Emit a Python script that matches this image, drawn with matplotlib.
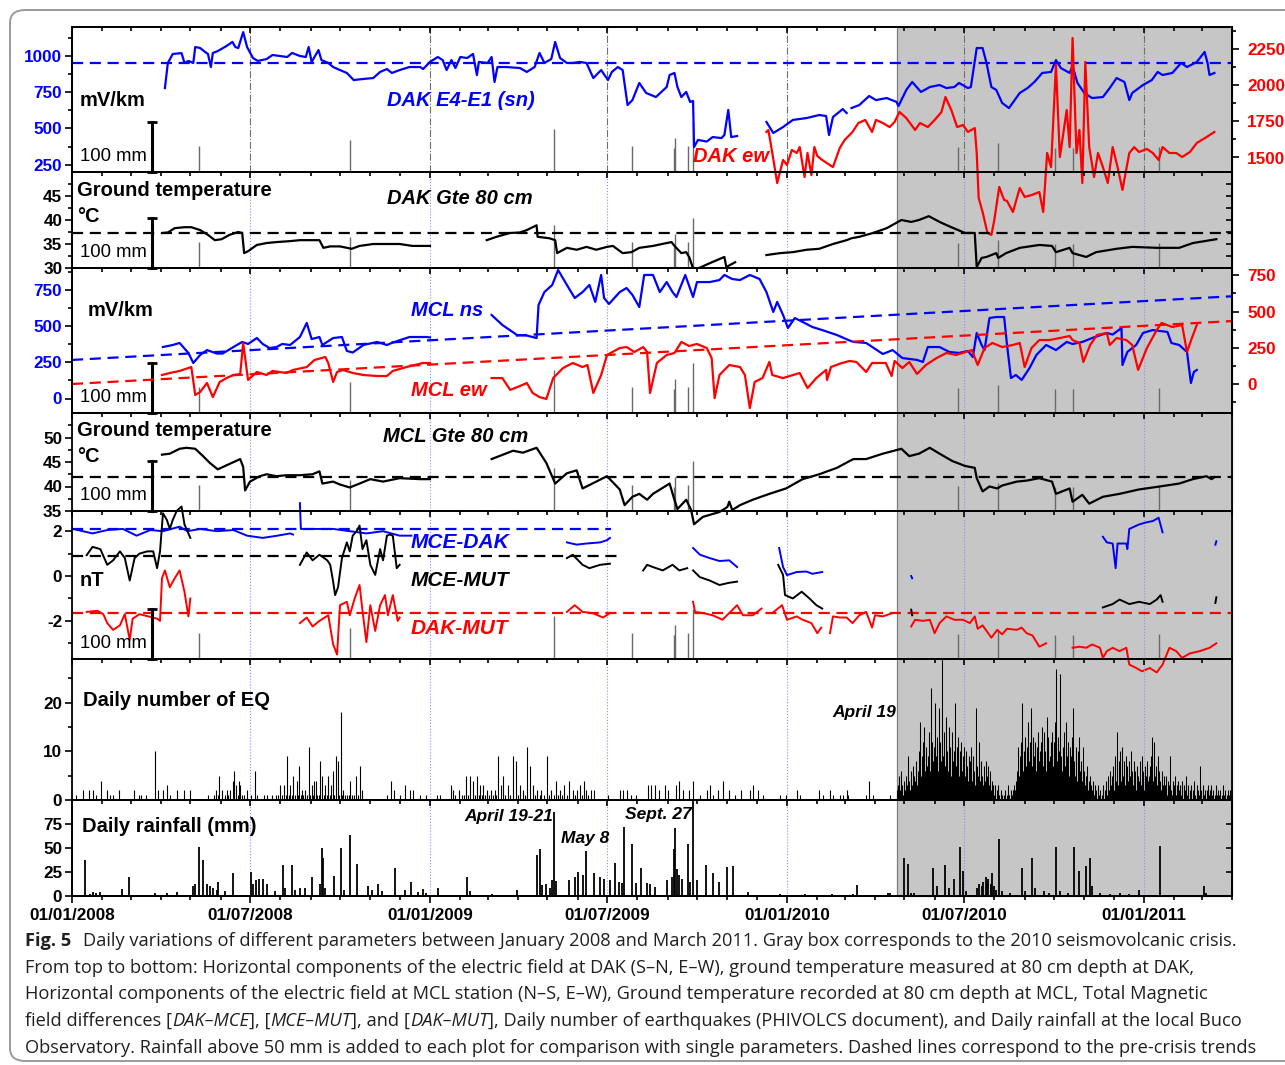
import numpy as np
import matplotlib
matplotlib.use("Agg")
import matplotlib.pyplot as plt
import matplotlib.dates as mdates
from matplotlib.ticker import FixedLocator, NullLocator
from matplotlib.transforms import blended_transform_factory
from matplotlib.patches import Rectangle, FancyBboxPatch

plt.rcParams["font.family"] = ["Liberation Sans", "DejaVu Sans"]
plt.rcParams["font.weight"] = "bold"
plt.rcParams["axes.linewidth"] = 1.3
plt.rcParams["axes.unicode_minus"] = False

# all series are keyed by day number counted from 1 Jan 2008
DAY0 = mdates.date2num(np.datetime64("2008-01-01"))
END_DAY = 1186
CRISIS_START = 843

BLUE, RED = "#0000ff", "#ff0000"

# ---- DAK electric field (mV/km) ----
dak_sn = [(95, 779), (98, 952), (103, 1014), (112, 1020), (115, 952), (119, 966), (124, 952), (126, 1062),
          (131, 1055), (136, 1028), (139, 1014), (142, 924), (144, 1021), (149, 1034), (158, 1069), (164, 1097),
          (167, 1062), (170, 1055), (175, 1165), (179, 1062), (185, 986), (190, 966), (199, 979), (205, 1007),
          (220, 993), (225, 1021), (233, 1000), (239, 993), (242, 1062), (245, 959), (252, 1041), (255, 972),
          (262, 952), (267, 924), (274, 903), (281, 883), (288, 834), (297, 841), (308, 848), (315, 890),
          (322, 910), (327, 883), (335, 903), (345, 924), (356, 924), (359, 910), (366, 959), (374, 993),
          (379, 972), (383, 903), (388, 972), (392, 917), (397, 993), (404, 986), (410, 1014), (414, 869),
          (416, 959), (425, 952), (429, 993), (432, 821), (435, 924), (444, 924), (458, 917), (465, 890),
          (473, 924), (478, 1021), (483, 952), (490, 979), (494, 1097), (499, 986), (506, 952), (512, 952),
          (519, 959), (526, 952), (533, 848), (541, 903), (548, 834), (552, 890), (558, 924), (563, 903),
          (568, 662), (573, 696), (580, 814), (587, 745), (597, 717), (608, 786), (611, 869), (616, 883),
          (619, 786), (623, 717), (628, 752), (632, 683), (635, 690), (636, 372), (640, 421), (649, 410),
          (655, 441), (664, 434), (667, 455), (671, 628), (674, 441), (680, 448), None,
          (710, 545), (717, 469), (727, 510), (737, 559), (751, 572), (764, 593), (771, 586), (774, 455),
          (778, 579), (788, 634), (792, 607), None,
          (797, 641), (805, 662), (815, 724), (822, 696), (833, 710), (843, 683), (845, 655), (853, 766),
          (859, 821), (868, 752), (877, 786), (887, 800), (894, 779), (902, 786), (907, 814), (916, 779),
          (919, 786), (925, 1055), (931, 1055), (935, 952), (940, 786), (945, 766), (951, 676), (958, 641),
          (969, 745), (977, 779), (984, 821), (992, 883), (1001, 890), (1006, 972), (1011, 917), (1020, 883),
          (1023, 931), (1028, 814), (1035, 745), (1043, 710), (1054, 717), (1061, 779), (1068, 848),
          (1076, 821), (1081, 696), (1084, 745), (1095, 800), (1104, 834), (1110, 890), (1115, 869),
          (1125, 883), (1134, 952), (1140, 924), (1150, 959), (1158, 1028), (1161, 952), (1163, 869), (1168, 883)]
dak_ew = [(710, 1676), (712, 1690), (716, 1531), (721, 1324), (727, 1483), (731, 1448), (736, 1552), (741, 1531),
          (744, 1572), (749, 1365), (752, 1531), (756, 1379), (759, 1572), (762, 1510), (767, 1483), (778, 1434),
          (785, 1566), (790, 1621), (798, 1676), (804, 1738), (811, 1759), (818, 1676), (822, 1759), (829, 1738),
          (836, 1710), (841, 1745), (846, 1814), (853, 1772), (862, 1690), (867, 1738), (875, 1710), (882, 1759),
          (889, 1814), (893, 1917), (899, 1828), (905, 1710), (911, 1724), (916, 1676), (923, 1703), (925, 1531),
          (927, 1221), (931, 1124), (936, 979), (940, 966), (943, 1069), (948, 1297), (953, 1207), (956, 1200),
          (962, 1124), (969, 1290), (974, 1228), (981, 1241), (989, 1262), (993, 1124), (997, 1531), (1001, 1434),
          (1006, 2138), (1010, 1503), (1013, 1641), (1017, 1828), (1020, 1572), (1023, 2324), (1027, 1531),
          (1030, 1690), (1033, 1324), (1036, 2159), (1040, 1572), (1045, 1365), (1049, 1531), (1054, 1434),
          (1059, 1324), (1064, 1572), (1069, 1434), (1074, 1276), (1081, 1531), (1086, 1572), (1091, 1538),
          (1099, 1559), (1105, 1531), (1111, 1483), (1115, 1572), (1122, 1531), (1129, 1531), (1135, 1503),
          (1143, 1538), (1150, 1600), (1160, 1641), (1168, 1676)]
dak_sn_trend = 952

# ---- DAK ground temperature at 80 cm (°C) ----
dak_gte = [(93, 37.3), (98, 37.4), (105, 38.3), (115, 38.5), (122, 38.5), (131, 37.9), (139, 36.9), (146, 35.8),
           (153, 36.0), (161, 36.9), (170, 37.5), (174, 37.3), (176, 33.1), (180, 33.5), (189, 34.8), (199, 35.2),
           (209, 35.4), (223, 35.6), (233, 35.8), (253, 35.8), (257, 34.2), (264, 34.5), (274, 34.5), (286, 34.0),
           (294, 34.6), (308, 35.0), (322, 35.0), (335, 35.0), (348, 34.6), (366, 34.6), None,
           (424, 35.8), (434, 36.5), (448, 37.3), (458, 37.4), (465, 37.9), (475, 38.9), (476, 36.5), (488, 36.2),
           (494, 35.8), (496, 33.1), (506, 34.2), (516, 33.8), (526, 34.4), (536, 33.8), (547, 34.4), (553, 34.6),
           (563, 33.1), (572, 33.3), (580, 34.2), (594, 34.6), (608, 35.2), (613, 35.4), (616, 34.6), (623, 33.1),
           (628, 33.3), (631, 32.3), (635, 29.9), (640, 29.9), (652, 31.0), (667, 32.3), (669, 30.2), (678, 31.2),
           None,
           (710, 32.7), (724, 33.1), (737, 33.3), (751, 33.8), (764, 34.0), (778, 35.0), (792, 35.8), (797, 36.2),
           (805, 36.5), (819, 37.3), (833, 38.3), (848, 40.0), (858, 39.6), (866, 40.0), (876, 40.8), (887, 39.6),
           (899, 38.5), (913, 37.3), (923, 37.3), (925, 30.2), (930, 32.1), (935, 32.3), (945, 33.1), (947, 32.1),
           (955, 33.1), (969, 34.2), (989, 34.8), (1002, 34.6), (1006, 33.3), (1020, 34.2), (1023, 33.1),
           (1037, 32.3), (1047, 33.3), (1068, 34.0), (1084, 34.4), (1109, 34.2), (1132, 34.2), (1146, 35.2),
           (1170, 36.0)]
dak_gte_trend = 37.3

# ---- MCL electric field (mV/km) ----
mcl_ns = [(93, 355), (103, 369), (110, 383), (119, 314), (124, 245), (131, 300), (138, 334), (148, 310), (154, 310),
          (165, 355), (174, 390), (180, 376), (189, 417), (195, 376), (202, 348), (209, 355), (215, 376), (223, 369),
          (233, 424), (240, 521), (245, 410), (253, 424), (256, 369), (267, 417), (276, 424), (281, 328), (287, 317),
          (298, 369), (312, 390), (322, 369), (328, 386), (345, 424), (363, 424), (366, 421), None,
          (429, 576), (440, 507), (455, 438), (465, 434), (475, 417), (477, 645), (483, 734), (491, 783), (497, 886),
          (506, 783), (514, 693), (522, 734), (529, 783), (535, 666), (541, 852), (544, 693), (549, 652), (560, 734),
          (567, 762), (573, 714), (580, 631), (585, 852), (594, 852), (601, 734), (608, 803), (614, 734), (618, 700),
          (627, 852), (635, 700), (639, 803), (652, 803), (662, 817), (667, 852), (675, 824), (683, 817), (693, 852),
          (703, 824), (710, 734), (717, 597), (721, 666), (727, 576), (732, 486), (739, 555), (747, 528), (757, 493),
          (767, 472), (782, 438), (795, 400), (799, 390), (812, 383), (829, 307), (839, 334), (849, 279), (864, 266),
          (870, 252), (875, 355), (887, 355), (897, 321), (907, 314), (916, 328), (921, 286), (925, 452), (930, 369),
          (933, 334), (938, 555), (945, 562), (953, 562), (956, 369), (960, 141), (965, 162), (971, 128), (979, 210),
          (986, 300), (996, 369), (1006, 334), (1017, 390), (1023, 376), (1033, 390), (1043, 417), (1058, 452),
          (1064, 441), (1073, 486), (1074, 231), (1079, 321), (1088, 369), (1095, 452), (1105, 472), (1120, 459),
          (1124, 383), (1132, 369), (1140, 321), (1144, 107), (1147, 183), (1150, 197)]
mcl_ew = [(92, 62), (100, 76), (110, 90), (122, 117), (126, -76), (131, -55), (138, 7), (144, -90), (151, 14),
          (158, 41), (165, 62), (172, 69), (175, 283), (180, 28), (189, 83), (199, 62), (205, 90), (212, 83),
          (219, 76), (226, 97), (240, 117), (248, 166), (259, 186), (262, 145), (267, 14), (271, 83), (277, 97),
          (287, 76), (298, 62), (312, 55), (322, 55), (328, 90), (342, 117), (359, 145), (366, 145), None,
          (429, 41), (440, 41), (448, -41), (458, -14), (465, 7), (471, -62), (478, -90), (485, -103), (492, 41),
          (502, 110), (512, 145), (522, 117), (527, 131), (533, -62), (541, 62), (547, 200), (560, 248), (567, 255),
          (575, 221), (584, 255), (588, 221), (591, -62), (598, 145), (608, 200), (616, 214), (623, 290), (631, 262),
          (639, 276), (649, 248), (654, 179), (657, -97), (662, 62), (672, 131), (683, 117), (688, 62), (693, -166),
          (698, 14), (706, 41), (713, 152), (716, 62), (727, 41), (737, 62), (744, 76), (752, -28), (761, 41),
          (771, 97), (772, 28), (776, 117), (785, 140), (795, 159), (802, 152), (812, 83), (818, 145), (832, 145),
          (838, 55), (841, 159), (849, 110), (856, 152), (864, 69), (873, 131), (884, 179), (894, 214), (904, 200),
          (914, 221), (920, 234), (926, 131), (933, 248), (941, 283), (951, 255), (962, 269), (969, 283), (974, 117),
          (981, 248), (989, 303), (999, 303), (1010, 317), (1020, 331), (1023, 303), (1030, 283), (1034, 152),
          (1041, 269), (1048, 338), (1058, 352), (1061, 269), (1068, 317), (1078, 303), (1084, 269), (1090, 97),
          (1099, 248), (1109, 372), (1114, 421), (1125, 393), (1135, 407), (1140, 221), (1145, 317), (1150, 407)]
mcl_ns_trend = [(0, 266), (END_DAY, 705)]
mcl_ew_trend = [(0, 0), (END_DAY, 434)]

# ---- MCL ground temperature at 80 cm (°C) ----
mcl_gte = [(92, 46.5), (100, 46.7), (110, 47.7), (117, 47.9), (126, 47.7), (134, 46.2), (141, 44.8), (149, 43.5),
           (161, 44.6), (172, 45.6), (175, 44.0), (177, 39.2), (182, 41.0), (192, 42.1), (199, 42.5), (209, 42.1),
           (219, 42.3), (233, 42.3), (246, 42.5), (253, 43.1), (256, 40.6), (267, 41.0), (274, 40.4), (284, 39.8),
           (294, 40.6), (305, 41.5), (318, 41.0), (335, 41.7), (356, 41.5), (366, 41.5), None,
           (429, 45.6), (451, 47.3), (461, 46.9), (475, 47.9), (485, 44.8), (494, 40.6), (506, 42.7), (516, 43.3),
           (522, 39.6), (532, 40.6), (547, 42.1), (560, 39.4), (565, 36.2), (573, 37.9), (580, 38.5), (588, 37.3),
           (594, 38.5), (611, 40.6), (615, 37.9), (619, 35.4), (628, 37.3), (633, 35.2), (636, 32.3), (645, 33.8),
           (662, 34.8), (670, 35.8), (672, 36.9), (675, 35.2), (683, 36.2), (696, 37.3), (713, 38.5), (730, 39.6),
           (747, 41.5), (764, 42.5), (782, 43.8), (795, 45.2), (799, 45.6), (812, 45.6), (829, 46.7), (848, 47.7),
           (856, 46.2), (866, 46.7), (877, 47.9), (887, 46.7), (900, 45.2), (913, 44.2), (923, 43.8), (925, 41.7),
           (931, 39.0), (938, 40.0), (946, 39.6), (951, 40.2), (966, 41.0), (976, 41.2), (989, 41.7), (1002, 41.0),
           (1006, 38.5), (1020, 39.6), (1023, 36.9), (1033, 38.3), (1040, 36.5), (1054, 37.9), (1071, 38.5),
           (1091, 39.4), (1112, 40.0), (1132, 40.6), (1146, 41.5), (1160, 42.1), (1165, 41.5), (1168, 41.9)]
mcl_gte_trend = 41.9

# ---- total magnetic field differences (nT) ----
mce_dak = [(1, 2.1), (21, 1.9), (36, 2.05), (52, 2.1), (66, 1.8), (80, 2.05), (93, 2.0), (110, 2.2), (118, 2.0),
           (131, 2.1), (148, 2.0), (165, 2.05), (179, 1.8), (195, 1.7), (210, 1.8), (223, 1.9), (226, 1.85), None,
           (233, 3.25), (234, 2.1), (250, 2.1), (267, 2.1), (284, 2.0), (301, 1.9), (318, 2.0), (335, 1.8),
           (347, 1.8), None,
           (506, 1.5), (516, 1.4), (526, 1.45), (540, 1.5), (547, 1.6), (550, 1.7), None,
           (635, 1.25), (642, 0.95), (652, 0.8), (662, 0.67), (672, 0.7), (680, 0.4), None,
           (723, 1.25), (727, 0.4), (731, 0.04), (741, 0.18), (751, 0.2), (757, 0.1), (767, 0.18), None,
           (858, 0.0), (859, -0.1), None,
           (1054, 1.75), (1058, 1.5), (1064, 1.45), (1067, 0.35), (1069, 1.45), (1078, 1.45), (1079, 1.2),
           (1081, 2.1), (1091, 2.3), (1099, 2.4), (1105, 2.45), (1111, 2.6), (1115, 1.95), None,
           (1169, 1.4), (1170, 1.55)]
mce_mut = [(15, 0.93), (21, 1.3), (29, 1.2), (36, 0.5), (42, 0.7), (49, 1.1), (54, 0.8), (59, -0.2), (64, 0.8),
           (69, 1.0), (77, 1.1), (83, 1.1), (87, 0.35), (90, 1.1), (93, 2.8), (97, 2.5), (100, 2.1), (103, 2.5),
           (107, 2.9), (112, 3.1), (115, 2.3), (121, 1.7), None,
           (233, 0.5), (240, 1.05), (246, 0.7), (253, 0.95), (261, 0.7), (264, 0.5), (267, -0.25), (269, -0.85),
           (272, -0.5), (276, 0.8), (281, 1.5), (284, 1.1), (287, 1.8), (291, 2.0), (294, 2.25), (297, 1.2),
           (301, 1.6), (305, 0.5), (310, 0.05), (315, 1.2), (318, 0.7), (322, 1.8), (325, 1.85), (328, 1.8),
           (332, 0.35), (335, 0.5), None,
           (506, 0.8), (512, 0.95), (522, 0.5), (529, 0.35), (540, 0.5), (550, 0.55), None,
           (584, 0.25), (588, 0.5), (594, 0.4), (604, 0.25), (614, 0.5), (621, 0.25), (629, 0.35), None,
           (635, 0.25), (642, -0.05), (652, -0.2), (662, -0.4), (672, -0.3), (680, -0.25), None,
           (722, 0.5), (727, 0.05), (729, -0.85), (737, -1.0), (746, -0.7), (754, -1.0), (761, -1.3), (767, -1.45),
           None,
           (858, -1.5), (859, -1.75), None,
           (1054, -1.4), (1064, -1.25), (1071, -1.05), (1081, -1.25), (1091, -1.15), (1102, -1.25), (1109, -1.05),
           (1113, -0.85), (1115, -1.15), None,
           (1169, -1.2), (1170, -0.95)]
dak_mut = [(15, -1.6), (26, -1.55), (32, -1.7), (36, -2.1), (42, -2.4), (49, -2.2), (54, -1.7), (59, -2.85),
           (62, -1.9), (69, -1.7), (78, -1.8), (87, -1.9), (90, -2.0), (92, -0.1), (95, 0.25), (100, -0.5),
           (105, -0.1), (110, 0.25), (115, -0.7), (119, -1.8), (121, -1.0), None,
           (233, -2.1), (240, -1.85), (246, -2.25), (253, -2.0), (262, -1.75), (267, -3.05), (271, -3.5),
           (274, -1.3), (281, -1.15), (284, -1.75), (289, -1.0), (294, -0.4), (297, -1.55), (301, -2.95),
           (305, -1.3), (310, -2.45), (315, -1.3), (320, -0.85), (323, -1.75), (328, -0.85), (333, -2.0),
           (335, -1.85), None,
           (506, -1.6), (514, -1.3), (522, -1.6), (532, -1.65), (543, -1.85), (550, -1.65), None,
           (635, -1.15), (637, -1.6), (645, -1.65), (655, -1.75), (665, -1.95), (672, -1.65), (680, -1.3),
           (686, -1.75), (696, -1.75), (705, -1.45), None,
           (716, -1.65), (726, -1.3), (731, -1.95), (741, -1.8), (747, -1.95), (756, -2.1), (762, -2.55),
           (766, -2.3), None,
           (775, -2.55), (778, -1.8), (785, -1.85), (792, -1.85), (798, -2.1), (805, -1.75), (812, -1.6),
           (818, -2.3), (821, -1.75), (829, -1.8), (839, -1.65), None,
           (858, -2.25), (862, -1.95), (870, -2.0), (877, -1.95), (882, -2.55), (887, -2.1), (894, -1.8),
           (902, -1.95), (911, -1.95), (918, -2.1), (923, -1.8), (926, -2.35), (931, -2.2), (940, -2.75),
           (946, -2.4), (951, -2.6), (956, -2.35), (966, -2.4), (971, -2.3), (976, -2.55), (982, -2.65),
           (989, -3.15), (996, -3.0), None,
           (1023, -3.2), (1030, -3.15), (1037, -3.2), (1043, -3.05), (1051, -3.2), (1054, -3.65), (1058, -3.35),
           (1064, -3.2), (1071, -3.35), (1078, -3.2), (1081, -3.95), (1088, -4.1), (1094, -4.25), (1102, -4.1),
           (1109, -4.3), (1115, -3.95), (1122, -3.2), (1129, -3.35), (1135, -3.65), (1143, -3.45), (1153, -3.35),
           (1163, -3.2), (1170, -3.0)]
mce_dak_trend = [(0, 2.1), (551, 2.1)]
mce_mut_trend = [(0, 0.9), (562, 0.9)]
dak_mut_trend = [(0, -1.65), (END_DAY, -1.65)]

# ---- daily number of earthquakes ----
eq_before = [(4, 1), (11, 2), (17, 2), (21, 2), (25, 1), (30, 4), (36, 2), (39, 1), (42, 1), (48, 2), (63, 2),
             (68, 1), (71, 1), (76, 1), (85, 10), (88, 2), (93, 2), (97, 3), (100, 1), (107, 2), (114, 2), (121, 2),
             (139, 1), (145, 1), (147, 2), (149, 1), (150, 5), (153, 2), (156, 1), (158, 2), (160, 1), (162, 2),
             (165, 4), (166, 6), (168, 3), (170, 1), (171, 4), (172, 3), (174, 1), (176, 1), (179, 2), (183, 1),
             (187, 6), (189, 1), (196, 1), (199, 1), (204, 1), (209, 1), (211, 1), (213, 3), (215, 1), (217, 3),
             (219, 1), (220, 9), (222, 1), (223, 3), (225, 1), (226, 5), (228, 1), (230, 4), (231, 1), (232, 7),
             (234, 1), (235, 2), (236, 1), (238, 2), (240, 1), (242, 11), (243, 1), (245, 3), (246, 1), (247, 4),
             (249, 4), (251, 1), (253, 1), (254, 8), (256, 5), (258, 1), (259, 3), (261, 1), (262, 5), (264, 1),
             (265, 3), (267, 6), (268, 1), (270, 9), (272, 8), (273, 1), (275, 18), (276, 1), (277, 2), (279, 1),
             (281, 1), (283, 1), (284, 4), (286, 1), (288, 1), (290, 5), (292, 1), (294, 7), (296, 2), (322, 1),
             (326, 4), (329, 2), (335, 1), (340, 3), (346, 2), (349, 2), (356, 1), (362, 1), (373, 1), (376, 1),
             (388, 3), (390, 2), (392, 1), (396, 2), (399, 1), (401, 1), (403, 5), (405, 1), (407, 5), (410, 4),
             (412, 1), (414, 5), (416, 1), (417, 3), (419, 1), (420, 3), (422, 1), (424, 2), (426, 1), (428, 2),
             (430, 1), (432, 2), (434, 1), (436, 9), (439, 3), (441, 5), (443, 1), (446, 3), (448, 1), (451, 9),
             (454, 8), (456, 1), (458, 3), (461, 2), (463, 1), (465, 11), (468, 7), (471, 3), (473, 1), (475, 2),
             (478, 1), (480, 2), (483, 1), (486, 9), (488, 1), (490, 2), (493, 1), (495, 4), (497, 1), (499, 2),
             (501, 1), (503, 3), (506, 1), (508, 4), (512, 2), (514, 1), (516, 2), (519, 3), (521, 1), (523, 4),
             (526, 2), (528, 1), (531, 2), (534, 2), (548, 1), (560, 2), (563, 2), (567, 2), (572, 1), (577, 1),
             (589, 3), (592, 3), (596, 3), (600, 2), (606, 3), (609, 2), (618, 3), (621, 4), (625, 2), (631, 2),
             (635, 4), (642, 1), (649, 2), (652, 3), (655, 1), (660, 2), (666, 4), (672, 2), (678, 1), (684, 2),
             (693, 2), (696, 3), (701, 2), (706, 1), (724, 1), (730, 1), (741, 2), (744, 1), (764, 2), (768, 1),
             (775, 2), (778, 1), (785, 1), (788, 1), (792, 2), (793, 1), (812, 1), (815, 4), (819, 1), (836, 1)]
# one value per day from CRISIS_START onwards
eq_crisis = [2, 1, 3, 5, 2, 6, 3, 1, 4, 2,    5, 3, 9, 4, 2, 6, 3, 7, 5, 4,
             8, 3, 6, 10, 16, 5, 9, 12, 15, 6,  11, 7, 9, 14, 6, 23, 12, 8, 11, 20,
             9, 13, 6, 19, 12, 8, 16, 30, 9, 14,  7, 17, 10, 6, 15, 11, 5, 14, 8, 10,
             20, 7, 11, 13, 5, 10, 12, 6, 9, 11,  5, 10, 7, 4, 9, 8, 11, 4, 9, 6,
             3, 19, 7, 5, 12, 4, 8, 5, 3, 7,  4, 8, 2, 5, 7, 3, 6, 2, 4, 3,
             1, 3, 0, 2, 3, 1, 0, 2, 1, 0,  1, 2, 0, 1, 3, 1, 0, 2, 1, 2,
             3, 2, 4, 6, 11, 5, 9, 12, 20, 6,  10, 13, 7, 11, 16, 8, 12, 19, 17, 7,
             13, 9, 12, 6, 11, 14, 8, 10, 12, 15,  7, 14, 10, 6, 17, 13, 8, 9, 12, 14,
             7, 12, 16, 27, 8, 13, 10, 26, 9, 6,  11, 14, 7, 16, 9, 12, 5, 11, 9, 13,
             19, 8, 5, 11, 9, 4, 10, 13, 6, 8,  4, 11, 6, 3, 5, 7, 2, 4, 5, 3,
             2, 4, 1, 3, 2, 0, 3, 1, 2, 0,  1, 3, 0, 2, 4, 1, 5, 2, 6, 3,
             5, 7, 2, 9, 4, 14, 3, 8, 6, 10,  4, 11, 5, 8, 3, 9, 7, 4, 8, 5,
             10, 6, 3, 8, 6, 2, 7, 5, 4, 8,  3, 9, 6, 2, 7, 5, 8, 4, 5, 7,
             9, 13, 4, 12, 5, 7, 3, 9, 6, 4,  2, 6, 3, 5, 2, 3, 5, 1, 4, 3,
             9, 2, 1, 4, 3, 5, 1, 3, 4, 2,  3, 1, 4, 0, 3, 2, 5, 1, 3, 0,
             2, 3, 0, 2, 4, 1, 0, 3, 2, 1,  7, 2, 0, 3, 1, 2, 0, 2, 3, 1,
             2, 0, 3, 1, 2, 0, 1, 3, 1, 2,  1, 2, 0, 1, 3, 1, 2, 0, 1, 2,
             1, 2, 1]

# ---- daily rainfall at Buco (mm) ----
rain = [(13, 37), (18, 2), (21, 4), (25, 3), (29, 4), (51, 7), (58, 20), (85, 3), (97, 3), (107, 4), (124, 10),
        (126, 12), (130, 51), (134, 38), (138, 12), (141, 10), (144, 8), (148, 6), (149, 15), (156, 5), (165, 24),
        (183, 25), (185, 12), (188, 17), (191, 18), (195, 18), (199, 12), (208, 5), (216, 32), (218, 8), (225, 32),
        (228, 6), (233, 8), (238, 8), (245, 20), (254, 13), (256, 50), (257, 40), (259, 8), (268, 21), (275, 50),
        (278, 6), (284, 64), (291, 33), (303, 10), (307, 6), (313, 12), (317, 5), (330, 29), (340, 6), (347, 15),
        (354, 4), (359, 7), (362, 3), (374, 8), (404, 20), (407, 5), (429, 2), (443, 1), (455, 6), (475, 43),
        (478, 49), (481, 11), (485, 13), (489, 8), (491, 17), (493, 87), (495, 16), (508, 17), (514, 20), (517, 25),
        (522, 22), (526, 47), (534, 24), (540, 20), (544, 18), (550, 17), (555, 34), (559, 15), (562, 14), (564, 72),
        (573, 54), (577, 14), (582, 29), (588, 14), (591, 12), (596, 9), (608, 17), (613, 20), (615, 49), (617, 71),
        (619, 28), (621, 22), (624, 18), (630, 54), (632, 15), (635, 104), (639, 17), (648, 32), (655, 24),
        (662, 15), (670, 30), (676, 31), (691, 4), (724, 2), (749, 2), (777, 2), (798, 2), (803, 11), (834, 3),
        (836, 3), (851, 40), (855, 33), (858, 3), (861, 3), (880, 29), (884, 10), (893, 32), (897, 8), (902, 18),
        (908, 51), (911, 26), (914, 5), (925, 8), (927, 12), (930, 10), (931, 15), (934, 20), (936, 14), (937, 18),
        (940, 12), (941, 24), (943, 10), (945, 6), (948, 59), (951, 5), (959, 3), (971, 29), (974, 5), (982, 40),
        (985, 8), (994, 5), (999, 3), (1006, 51), (1010, 5), (1018, 3), (1024, 51), (1030, 26), (1037, 31),
        (1041, 40), (1043, 10), (1051, 3), (1061, 2), (1071, 3), (1081, 2), (1091, 6), (1112, 52), (1157, 10),
        (1159, 3)]
# rainfall events above 50 mm, repeated at the foot of every parameter panel
heavy_rain = [(130, 52), (284, 63), (493, 86), (573, 52), (615, 48), (617, 68), (630, 52), (635, 100),
              (906, 50), (947, 57), (1005, 48), (1023, 48), (1111, 50)]


def xy(pairs):
    x = np.array([DAY0 + p[0] if p else np.nan for p in pairs])
    y = np.array([p[1] if p else np.nan for p in pairs])
    return x, y


# ---------------------------------------------------------------- layout
W, H = 1285, 1065
L, R = 72, 1232
fig = plt.figure(figsize=(W / 100, H / 100), dpi=100)

bounds = [(27, 172), (172, 268), (268, 413), (413, 511), (511, 659), (659, 800), (800, 896)]


def tick_style(ax, axis="y", direction="out"):
    ax.tick_params(axis=axis, which="both", direction=direction, width=1.2, labelsize=12.3, pad=2)
    ax.tick_params(axis=axis, which="major", length=5)
    ax.tick_params(axis=axis, which="minor", length=3)


def panel(top, bottom, grid_color="#8c8cff", grid_ls=":"):
    ax = fig.add_axes([L / W, 1 - bottom / H, (R - L) / W, (bottom - top) / H])
    ax.patch.set_visible(False)
    ax.set_xlim(DAY0, DAY0 + END_DAY)
    ax.xaxis.set_major_locator(mdates.MonthLocator(bymonth=[1, 7]))
    ax.xaxis.set_minor_locator(mdates.MonthLocator())
    ax.tick_params(axis="x", which="both", direction="in", top=True, bottom=False,
                   labelbottom=False, width=1.2)
    ax.tick_params(axis="x", which="major", length=4.5)
    ax.tick_params(axis="x", which="minor", length=3)
    tick_style(ax)
    ax.grid(axis="x", which="major", color=grid_color, ls=grid_ls, lw=0.8)
    return ax


def yticks(ax, major, minor=None, lim=None):
    if lim:
        ax.set_ylim(*lim)
    ax.yaxis.set_major_locator(FixedLocator(major))
    ax.yaxis.set_minor_locator(FixedLocator(minor) if minor else NullLocator())


def right_axis(ax, lim, major, minor, color=None, labels=True):
    axr = ax.twinx()
    axr.patch.set_visible(False)
    yticks(axr, major, minor, lim)
    if labels:
        tick_style(axr, direction="out")
        axr.tick_params(axis="y", labelcolor=color, pad=6)
    else:
        tick_style(axr, direction="in")
        axr.tick_params(axis="y", which="both", length=4, labelright=False)
    return axr


def rain_marks(ax, top, bottom):
    h = bottom - top
    tr = blended_transform_factory(ax.transData, ax.transAxes)
    hx, hmm = xy(heavy_rain)
    ax.vlines(hx, 0, hmm * 0.5 / h, transform=tr, color="#6a6a6a", lw=1.0, zorder=1.8)
    xb = DAY0 + 82
    hb = 50 / h
    ax.plot([xb, xb], [0, hb], transform=tr, color="k", lw=2.2, clip_on=False, zorder=3)
    ax.plot([xb, xb], [0, hb], transform=tr, ls="none", marker="_", ms=7, mew=2, color="k",
            clip_on=False, zorder=3)
    fig.text(147 / W, 1 - (bottom - 15.5) / H, "100 mm", ha="right", va="center",
             fontsize=13.3, fontweight="normal")


def line(ax, pairs, color, lw=1.6, clip=True):
    x, y = xy(pairs)
    ax.plot(x, y, color=color, lw=lw, clip_on=clip, zorder=2.5)


def trend(ax, pairs, color):
    x, y = xy(pairs)
    ax.plot(x, y, color=color, lw=1.6, ls=(0, (5, 3)), zorder=2.4)


# DAK electric field
ax1 = panel(*bounds[0], grid_color="#707070", grid_ls="-.")
yticks(ax1, [250, 500, 750, 1000], [375, 625, 875, 1125], (200, 1200))
ax1.tick_params(axis="y", labelcolor=BLUE)
ax1r = right_axis(ax1, (1400, 2400), [1500, 1750, 2000, 2250], [1625, 1875, 2125, 2375], RED)
rain_marks(ax1, *bounds[0])
trend(ax1, [(0, dak_sn_trend), (END_DAY, dak_sn_trend)], BLUE)
line(ax1, dak_sn, BLUE)
line(ax1r, dak_ew, RED, clip=False)

# DAK ground temperature
ax2 = panel(*bounds[1])
yticks(ax2, [30, 35, 40, 45], [32.5, 37.5, 42.5, 47.5], (30, 50))
right_axis(ax2, (30, 50), [35, 40, 45], [32.5, 37.5, 42.5, 47.5], labels=False)
rain_marks(ax2, *bounds[1])
trend(ax2, [(0, dak_gte_trend), (END_DAY, dak_gte_trend)], "k")
line(ax2, dak_gte, "k")

# MCL electric field
ax3 = panel(*bounds[2])
yticks(ax3, [0, 250, 500, 750], [125, 375, 625, 875], (-100, 900))
ax3.tick_params(axis="y", labelcolor=BLUE)
ax3r = right_axis(ax3, (-200, 800), [0, 250, 500, 750], [-125, 125, 375, 625], RED)
rain_marks(ax3, *bounds[2])
trend(ax3, mcl_ns_trend, BLUE)
trend(ax3r, mcl_ew_trend, RED)
line(ax3, mcl_ns, BLUE)
line(ax3r, mcl_ew, RED)

# MCL ground temperature
ax4 = panel(*bounds[3])
yticks(ax4, [35, 40, 45, 50], [37.5, 42.5, 47.5, 52.5], (35, 55))
rain_marks(ax4, *bounds[3])
trend(ax4, [(0, mcl_gte_trend), (END_DAY, mcl_gte_trend)], "k")
line(ax4, mcl_gte, "k", clip=False)

# magnetic field differences
ax5 = panel(*bounds[4])
yticks(ax5, [-2, 0, 2], [-3, -1, 1], (-3.7, 2.9))
rain_marks(ax5, *bounds[4])
trend(ax5, mce_dak_trend, BLUE)
trend(ax5, mce_mut_trend, "k")
trend(ax5, dak_mut_trend, RED)
line(ax5, mce_dak, BLUE, lw=1.4, clip=False)
line(ax5, mce_mut, "k", lw=1.4, clip=False)
line(ax5, dak_mut, RED, lw=1.4, clip=False)

# earthquakes
ax6 = panel(*bounds[5])
yticks(ax6, [0, 10, 20], [5, 15, 25], (0, 29))
ex, ey = xy(eq_before)
ax6.vlines(ex, 0, ey, color="k", lw=0.8)
crisis_x = DAY0 + CRISIS_START + np.arange(len(eq_crisis))
ax6.vlines(crisis_x, 0, eq_crisis, color="k", lw=0.75)

# rainfall
ax7 = panel(*bounds[6])
yticks(ax7, [0, 25, 50, 75], None, (0, 100))
right_axis(ax7, (0, 100), [25, 50, 75], None, labels=False)
rx, ry = xy(rain)
ax7.vlines(rx, 0, ry, color="k", lw=1.3)
sec = ax7.secondary_xaxis("bottom")
sec.xaxis.set_major_locator(mdates.MonthLocator(bymonth=[1, 7]))
sec.xaxis.set_minor_locator(mdates.MonthLocator())
sec.xaxis.set_major_formatter(mdates.DateFormatter("%d/%m/%Y"))
sec.tick_params(which="both", direction="out", width=1.2, labelsize=12.3, pad=4)
sec.tick_params(which="major", length=5)
sec.tick_params(which="minor", length=3)

# 2010 seismovolcanic crisis box behind every panel
crisis_tr = blended_transform_factory(ax7.transData, fig.transFigure)
fig.add_artist(Rectangle((DAY0 + CRISIS_START, 1 - 896 / H), END_DAY - CRISIS_START, (896 - 27) / H,
                         transform=crisis_tr, facecolor="#c6c6c6", edgecolor="#7d7d7d", lw=0.9, zorder=-1))


def label(px, py, s, color="k", style="normal", size=14.5, ha="left"):
    fig.text(px / W, 1 - py / H, s, color=color, style=style, fontsize=size, ha=ha, va="center")


label(80, 101, "mV/km")
label(387, 100, "DAK E4-E1 (sn)", BLUE, "italic")
label(693, 157, "DAK ew", RED, "italic")
label(77, 190, "Ground temperature")
label(77, 216, "°C")
label(387, 199, "DAK Gte 80 cm", style="italic")
label(88, 310, "mV/km")
label(411, 310, "MCL ns", BLUE, "italic")
label(411, 390, "MCL ew", RED, "italic")
label(77, 431, "Ground temperature")
label(77, 457, "°C")
label(383, 437, "MCL Gte 80 cm", style="italic")
label(411, 543, "MCE-DAK", BLUE, "italic", 15)
label(411, 580, "MCE-MUT", "k", "italic", 15)
label(411, 628, "DAK-MUT", RED, "italic", 15)
label(80, 580, "nT")
label(83, 700, "Daily number of EQ")
label(896, 713, "April 19", style="italic", size=12.5, ha="right")
label(82, 826, "Daily rainfall (mm)")
label(553, 817, "April 19-21", style="italic", size=12.5, ha="right")
label(561, 839, "May 8", style="italic", size=12.5)
label(692, 815, "Sept. 27", style="italic", size=12.5, ha="right")

# rounded frame around figure and caption
fig.add_artist(FancyBboxPatch((10 / W, 1 - 1061 / H), 1320 / W, 1051 / H,
                              boxstyle="round,pad=0,rounding_size=0.012", transform=fig.transFigure,
                              facecolor="none", edgecolor="#9a9a9a", lw=1.4, zorder=5))

# caption
CAP_FONT = ["Open Sans", "DejaVu Sans"]
CAP_COLOR = "#231f20"
caption = [
    [("Fig. 5", "b"), ("Daily variations of different parameters between January 2008 and March 2011. "
                       "Gray box corresponds to the 2010 seismovolcanic crisis.", "r")],
    [("From top to bottom: Horizontal components of the electric field at DAK (S\u2013N, E\u2013W), "
      "ground temperature measured at 80 cm depth at DAK,", "r")],
    [("Horizontal components of the electric field at MCL station (N\u2013S, E\u2013W), Ground temperature "
      "recorded at 80 cm depth at MCL, Total Magnetic", "r")],
    [("field differences [", "r"), ("DAK\u2013MCE", "i"), ("], [", "r"), ("MCE\u2013MUT", "i"),
     ("], and [", "r"), ("DAK\u2013MUT", "i"),
     ("], Daily number of earthquakes (PHIVOLCS document), and Daily rainfall at the local Buco", "r")],
    [("Observatory. Rainfall above 50 mm is added to each plot for comparison with single parameters. "
      "Dashed lines correspond to the pre-crisis trends", "r")],
]
cap_y = [941, 968, 994, 1021, 1048]

renderer = fig.canvas.get_renderer()
probe = fig.text(0, 0, caption[4][0][0], fontsize=12, family=CAP_FONT, fontweight="normal")
cap_size = 12 * 1225 / probe.get_window_extent(renderer).width
probe.remove()

for parts, yp in zip(caption, cap_y):
    xp = 25
    for s, kind in parts:
        t = fig.text(xp / W, 1 - yp / H, s, fontsize=cap_size, family=CAP_FONT, color=CAP_COLOR,
                     fontweight="bold" if kind == "b" else "normal",
                     style="italic" if kind == "i" else "normal", va="center", ha="left")
        xp += t.get_window_extent(renderer).width
        if kind == "b":
            xp += 12

fig.savefig("out.png", dpi=100)
